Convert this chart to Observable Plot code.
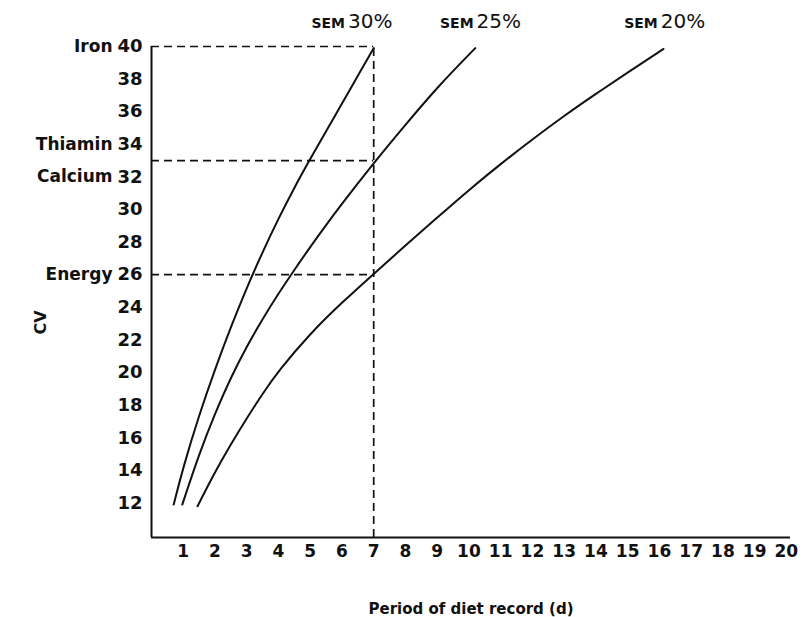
<!DOCTYPE html>
<html>
<head>
<meta charset="utf-8">
<script src="https://cdn.jsdelivr.net/npm/d3@7"></script>
<script src="https://cdn.jsdelivr.net/npm/@observablehq/plot@0.6"></script>
<style>
  html, body { margin: 0; padding: 0; background: #fff; }
</style>
</head>
<body>
<div id="chart"></div>
<script>
// --- data ---
const days30 = [0.70, 1, 1.5, 2, 2.5, 3, 3.5, 4, 4.5, 5, 5.5, 6, 6.5, 7];
const cv30   = [11.9, 14.2, 17.4, 20.2, 22.8, 25.2, 27.4, 29.45, 31.35, 33.1, 34.8, 36.5, 38.2, 39.9];

const days25 = [0.97, 1.5, 2, 2.5, 3, 3.5, 4, 4.5, 5, 5.5, 6, 6.5, 7, 8, 9, 10.2];
const cv25   = [11.9, 15.0, 17.5, 19.7, 21.6, 23.3, 24.85, 26.3, 27.7, 29.05, 30.35, 31.6, 32.85, 35.2, 37.5, 39.9];

const days20 = [1.45, 2, 2.5, 3, 3.5, 4, 5, 6, 7, 8, 9, 10, 11, 12, 13, 14, 15, 16.13];
const cv20   = [11.8, 13.9, 15.6, 17.2, 18.7, 20.1, 22.4, 24.3, 26.05, 27.8, 29.5, 31.2, 32.8, 34.3, 35.75, 37.1, 38.4, 39.85];

const semLabels = ["30%", "25%", "20%"];
const semLabelDay = [6.16, 10.21, 16.01];

const nutrients = ["Iron", "Thiamin", "Calcium", "Energy"];
const nutrientCV = [40, 34, 32, 26];

const refCV = [40, 33, 26];
const refDay = 7;

const xTicks = d3.range(1, 21);
const yTicks = d3.range(12, 41, 2);
const xDomain = [0, 20.13];
const yDomain = [9.88, 40];
const cvLabelY = 23.07;

const series = [
  ...days30.map((d, i) => ({sem: "30%", day: d, cv: cv30[i]})),
  ...days25.map((d, i) => ({sem: "25%", day: d, cv: cv25[i]})),
  ...days20.map((d, i) => ({sem: "20%", day: d, cv: cv20[i]}))
];

const FONT = "DejaVu Sans";

const chart = Plot.plot({
  width: 804,
  height: 617,
  marginLeft: 151,
  marginRight: 14,
  marginTop: 46,
  marginBottom: 80,
  style: {fontFamily: FONT, fontSize: "17px", color: "#111", background: "#fff"},
  x: {domain: xDomain},
  y: {domain: yDomain},
  marks: [
    // dashed reference lines
    Plot.ruleY(refCV, {y: d => d, x1: 0, x2: refDay, stroke: "#111", strokeWidth: 1.7, strokeDasharray: "8,5"}),
    Plot.ruleX([refDay], {y1: yDomain[0], y2: yDomain[1], stroke: "#111", strokeWidth: 1.7, strokeDasharray: "8,5"}),
    // axis lines
    Plot.ruleX([0], {stroke: "#111", strokeWidth: 2}),
    Plot.ruleY([yDomain[0]], {stroke: "#111", strokeWidth: 2}),
    // curves
    Plot.line(series, {x: "day", y: "cv", z: "sem", curve: "basis", stroke: "#111", strokeWidth: 2}),
    // axes
    Plot.axisX(xTicks, {tickSize: 0, tickPadding: 7, fontSize: 17, fontWeight: "bold", label: null}),
    Plot.axisY(yTicks, {tickSize: 0, tickPadding: 9, fontSize: 18, fontWeight: "bold", label: null}),
    // nutrient names beside y ticks
    Plot.text(nutrients, {x: 0, y: (d, i) => nutrientCV[i], text: d => d, textAnchor: "end", dx: -39, fontSize: 17, fontWeight: "bold"}),
    // SEM labels
    Plot.text(semLabels, {x: (d, i) => semLabelDay[i], y: yDomain[1], text: d => "SEM", textAnchor: "end", dx: -2, dy: -23, fontSize: 14, fontWeight: "bold"}),
    Plot.text(semLabels, {x: (d, i) => semLabelDay[i], y: yDomain[1], text: d => d, textAnchor: "start", dx: 1, dy: -25, fontSize: 20}),
    // axis titles
    Plot.text(["Period of diet record (d)"], {frameAnchor: "bottom", dy: 76, fontSize: 15, fontWeight: "bold"}),
    Plot.text(["CV"], {x: 0, y: cvLabelY, dx: -111, rotate: -90, fontSize: 16, fontWeight: "bold"})
  ]
});

document.getElementById("chart").appendChild(chart);
</script>
</body>
</html>
